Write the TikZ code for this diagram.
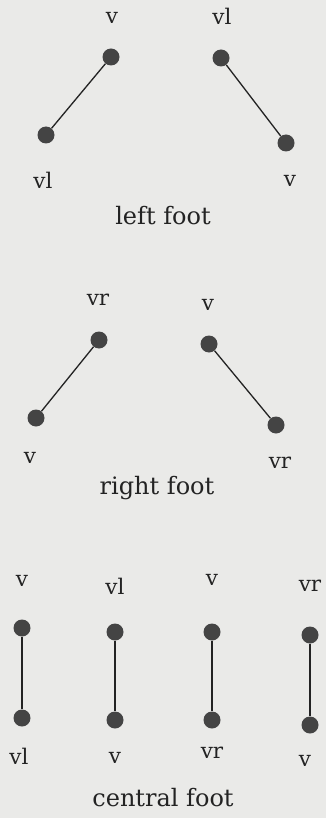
\documentclass[tikz,border=0pt]{standalone}
\usepackage{fontspec}
\setmainfont{DejaVu Serif}
\definecolor{paper}{RGB}{234,234,232}
\definecolor{ink}{RGB}{35,35,35}
\definecolor{dotc}{RGB}{68,68,68}
\begin{document}
\begin{tikzpicture}[x=1pt,y=-1pt,
  vtx/.style={circle,fill=dotc,inner sep=0pt,minimum size=17pt},
  lab/.style={text=ink,font=\fontsize{21.5}{24}\selectfont,inner sep=0pt},
  caption/.style={text=ink,font=\fontsize{24}{27}\selectfont,inner sep=0pt},
  link/.style={draw=ink,line width=1.3pt}]
\fill[paper] (0,0) rectangle (326,818);
\useasboundingbox (0,0) rectangle (326,818);
% left foot
\node[vtx] (a1) at (111,57) {};
\node[vtx] (a2) at (46,135) {};
\node[lab] (la1) at (112,18) {v};
\node[lab] (la2) at (43,180) {vl};
\draw[link] (a1) -- (a2);
\node[vtx] (b1) at (221,58) {};
\node[vtx] (b2) at (286,143) {};
\node[lab] (lb1) at (222,16) {vl};
\node[lab] (lb2) at (290,181) {v};
\draw[link] (b1) -- (b2);
\node[caption] (c1) at (163,216) {left foot};
% right foot
\node[vtx] (d1) at (99,340) {};
\node[vtx] (d2) at (36,418) {};
\node[lab] (ld1) at (98,300) {vr};
\node[lab] (ld2) at (30,458) {v};
\draw[link] (d1) -- (d2);
\node[vtx] (e1) at (209,344) {};
\node[vtx] (e2) at (276,425) {};
\node[lab] (le1) at (208,305) {v};
\node[lab] (le2) at (280,463) {vr};
\draw[link] (e1) -- (e2);
\node[caption] (c2) at (157,488) {right foot};
% central foot
\node[vtx] (f1) at (22,628) {};
\node[vtx] (f2) at (22,718) {};
\node[lab] (lf1) at (22,581) {v};
\node[lab] (lf2) at (19,756) {vl};
\draw[link] (f1) -- (f2);
\node[vtx] (g1) at (115,632) {};
\node[vtx] (g2) at (115,720) {};
\node[lab] (lg1) at (115,586) {vl};
\node[lab] (lg2) at (115,758) {v};
\draw[link] (g1) -- (g2);
\node[vtx] (h1) at (212,632) {};
\node[vtx] (h2) at (212,720) {};
\node[lab] (lh1) at (212,580) {v};
\node[lab] (lh2) at (212,753) {vr};
\draw[link] (h1) -- (h2);
\node[vtx] (k1) at (310,635) {};
\node[vtx] (k2) at (310,725) {};
\node[lab] (lk1) at (310,586) {vr};
\node[lab] (lk2) at (305,761) {v};
\draw[link] (k1) -- (k2);
\node[caption] (c3) at (163,798) {central foot};
\end{tikzpicture}
\end{document}
